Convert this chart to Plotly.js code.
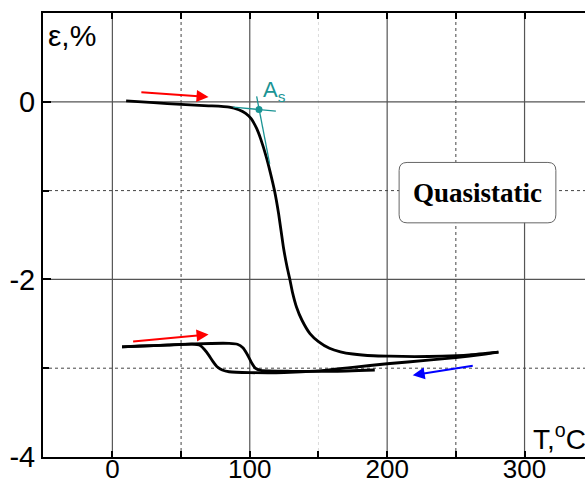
<!DOCTYPE html>
<html>
<head>
<meta charset="utf-8">
<script src="https://cdn.plot.ly/plotly-3.0.1.min.js"></script>
<style>html,body{margin:0;padding:0;background:#fff;}</style>
</head>
<body>
<div id="chart" style="width:585px;height:487px;"></div>
<script>
// ---- Data ----
// First heating: T (°C) and strain (%)
const heat1T = [10, 30, 50, 70, 85, 92, 97, 101, 105, 108, 112, 115, 118, 121, 124.4, 127, 129.3, 131, 134, 138, 143.8, 150, 158, 166, 175, 190, 202, 220, 240, 260, 281];
const heat1E = [0.01, -0.01, -0.03, -0.045, -0.06, -0.09, -0.13, -0.19, -0.30, -0.42, -0.62, -0.80, -1.0, -1.26, -1.63, -1.85, -2.01, -2.14, -2.31, -2.46, -2.61, -2.70, -2.775, -2.815, -2.84, -2.86, -2.865, -2.87, -2.865, -2.85, -2.82];
// First cooling
const cool1T = [281, 270, 250, 230, 200, 175, 150, 125, 100, 85, 80, 76, 73, 70, 67, 64, 58, 40, 20, 7];
const cool1E = [-2.82, -2.845, -2.88, -2.91, -2.95, -2.99, -3.03, -3.05, -3.05, -3.04, -3.02, -2.98, -2.92, -2.85, -2.79, -2.745, -2.73, -2.74, -2.75, -2.76];
// Second heating
const heat2T = [7, 30, 60, 85, 91, 95, 98, 101, 104, 108, 130, 160, 191];
const heat2E = [-2.76, -2.745, -2.725, -2.72, -2.73, -2.77, -2.84, -2.93, -3.0, -3.025, -3.035, -3.035, -3.02];
// As construction (tangent lines and intersection point)
const tanFlatT = [88, 119];
const tanFlatE = [-0.06, -0.105];
const tanSteepT = [105, 114.5];
const tanSteepE = [0.06, -0.70];
const asPointT = [106.7];
const asPointE = [-0.086];
// Direction arrows: [tail T, tail e, head T, head e]
const arrowRed1 = [20, 0.11, 70, 0.055];
const arrowRed2 = [14, -2.70, 70, -2.62];
const arrowBlue = [263.4, -2.97, 218.6, -3.08];
// Axis ticks
const xTickVals = [0, 100, 200, 300];
const xTickText = ['0', '100', '200', '300'];
const yTickVals = [-4, -2, 0];
const yTickText = ['-4', '-2', '0'];
const xGridSolid = [0, 100, 200, 300];
const xGridDot = [50, 250];
const xGridFaint = [150];
const yGridSolid = [0, -2];
const yGridDot = [-1, -3];
const boxLabel = 'Quasistatic';

const XR = [-50.5, 344];
const YR = [-4, 1];

const black = '#000';
const teal = '#1a9494';

const traces = [
  {x: heat1T, y: heat1E, mode: 'lines', line: {color: black, width: 2.8, shape: 'spline', smoothing: 0.5}, hoverinfo: 'skip'},
  {x: cool1T, y: cool1E, mode: 'lines', line: {color: black, width: 2.8, shape: 'spline', smoothing: 0.5}, hoverinfo: 'skip'},
  {x: heat2T, y: heat2E, mode: 'lines', line: {color: black, width: 2.8, shape: 'spline', smoothing: 0.5}, hoverinfo: 'skip'},
  {x: tanFlatT, y: tanFlatE, mode: 'lines', line: {color: teal, width: 1.3}, hoverinfo: 'skip'},
  {x: tanSteepT, y: tanSteepE, mode: 'lines', line: {color: teal, width: 1.3}, hoverinfo: 'skip'},
  {x: asPointT, y: asPointE, mode: 'markers', marker: {color: teal, size: 7}, hoverinfo: 'skip'}
];

const shapes = [];
function vline(x, color, dash, width) {
  shapes.push({type: 'line', xref: 'x', yref: 'paper', x0: x, x1: x, y0: 0, y1: 1, layer: 'below', line: {color: color, dash: dash, width: width}});
}
function hline(y, color, dash, width) {
  shapes.push({type: 'line', xref: 'paper', yref: 'y', x0: 0, x1: 1, y0: y, y1: y, layer: 'below', line: {color: color, dash: dash, width: width}});
}
xGridSolid.forEach(v => vline(v, '#555', 'solid', 1.2));
xGridDot.forEach(v => vline(v, '#444', 'dot', 1));
xGridFaint.forEach(v => vline(v, '#ddd', 'dot', 1));
yGridSolid.forEach(v => hline(v, '#555', 'solid', 1.2));
yGridDot.forEach(v => hline(v, '#444', 'dot', 1));

// rounded box for label (computed from axis units)
const bx0 = 208.7, bx1 = 322.8, by0 = -1.363, by1 = -0.683;
const rx = 5.8, ry = 0.09;
const boxPath = `M ${bx0+rx},${by1} L ${bx1-rx},${by1} Q ${bx1},${by1} ${bx1},${by1-ry} L ${bx1},${by0+ry} Q ${bx1},${by0} ${bx1-rx},${by0} L ${bx0+rx},${by0} Q ${bx0},${by0} ${bx0},${by0+ry} L ${bx0},${by1-ry} Q ${bx0},${by1} ${bx0+rx},${by1} Z`;
shapes.push({type: 'path', xref: 'x', yref: 'y', path: boxPath, fillcolor: '#fff', line: {color: '#666', width: 1}, layer: 'above'});

function arrow(a, color) {
  return {x: a[2], y: a[3], ax: a[0], ay: a[1], xref: 'x', yref: 'y', axref: 'x', ayref: 'y',
    text: '', showarrow: true, arrowhead: 2, arrowsize: 1.2, arrowwidth: 2, arrowcolor: color, standoff: 0, startstandoff: 0};
}

const annotations = [
  arrow(arrowRed1, '#ff0000'),
  arrow(arrowRed2, '#ff0000'),
  arrow(arrowBlue, '#0000ff'),
  {x: 0.005, y: 0.99, xref: 'paper', yref: 'paper', xanchor: 'left', yanchor: 'top', showarrow: false,
   text: 'ε,%', font: {family: 'Liberation Sans, Arial', size: 30, color: '#000'}},
  {x: 0.9, y: 0.0, xref: 'paper', yref: 'paper', xanchor: 'left', yanchor: 'bottom', showarrow: false,
   text: 'T,<sup>o</sup>C', font: {family: 'Liberation Sans, Arial', size: 28, color: '#000'}},
  {x: 108.5, y: 0.12, xref: 'x', yref: 'y', xanchor: 'left', yanchor: 'middle', showarrow: false,
   text: 'A<sub>s</sub>', font: {family: 'Liberation Sans, Arial', size: 22, color: teal}},
  {x: (bx0 + bx1) / 2, y: (by0 + by1) / 2, xref: 'x', yref: 'y', xanchor: 'center', yanchor: 'middle', showarrow: false,
   text: boxLabel, font: {family: 'Liberation Serif, Times New Roman', size: 27, color: '#000', weight: 'bold'}}
];

const layout = {
  width: 585, height: 487, autosize: false,
  margin: {l: 43, r: 0, t: 13, b: 30, pad: 0},
  paper_bgcolor: '#fff', plot_bgcolor: '#fff',
  showlegend: false,
  xaxis: {range: XR, showgrid: false, zeroline: false, showline: true, linecolor: '#000', linewidth: 2, mirror: 'ticks',
    tickmode: 'array', tickvals: xTickVals, ticktext: xTickText, ticks: 'inside', ticklen: 6, tickwidth: 2, tickcolor: '#000',
    minor: {dtick: 50, tick0: 0, ticks: 'inside', ticklen: 6, tickwidth: 2, tickcolor: '#000', showgrid: false},
    tickfont: {family: 'Liberation Sans, Arial', size: 26, color: '#000'}, tickangle: 0, ticklabelstandoff: -12},
  yaxis: {range: YR, showgrid: false, zeroline: false, showline: true, linecolor: '#000', linewidth: 2, mirror: false,
    tickmode: 'array', tickvals: yTickVals, ticktext: yTickText, ticks: 'inside', ticklen: 8, tickwidth: 2, tickcolor: '#000',
    minor: {dtick: 1, tick0: 0, ticks: 'inside', ticklen: 6, tickwidth: 2, tickcolor: '#000', showgrid: false},
    tickfont: {family: 'Liberation Sans, Arial', size: 29, color: '#000'}},
  shapes: shapes,
  annotations: annotations
};

Plotly.newPlot('chart', traces, layout, {staticPlot: true, displayModeBar: false});
</script>
</body>
</html>
